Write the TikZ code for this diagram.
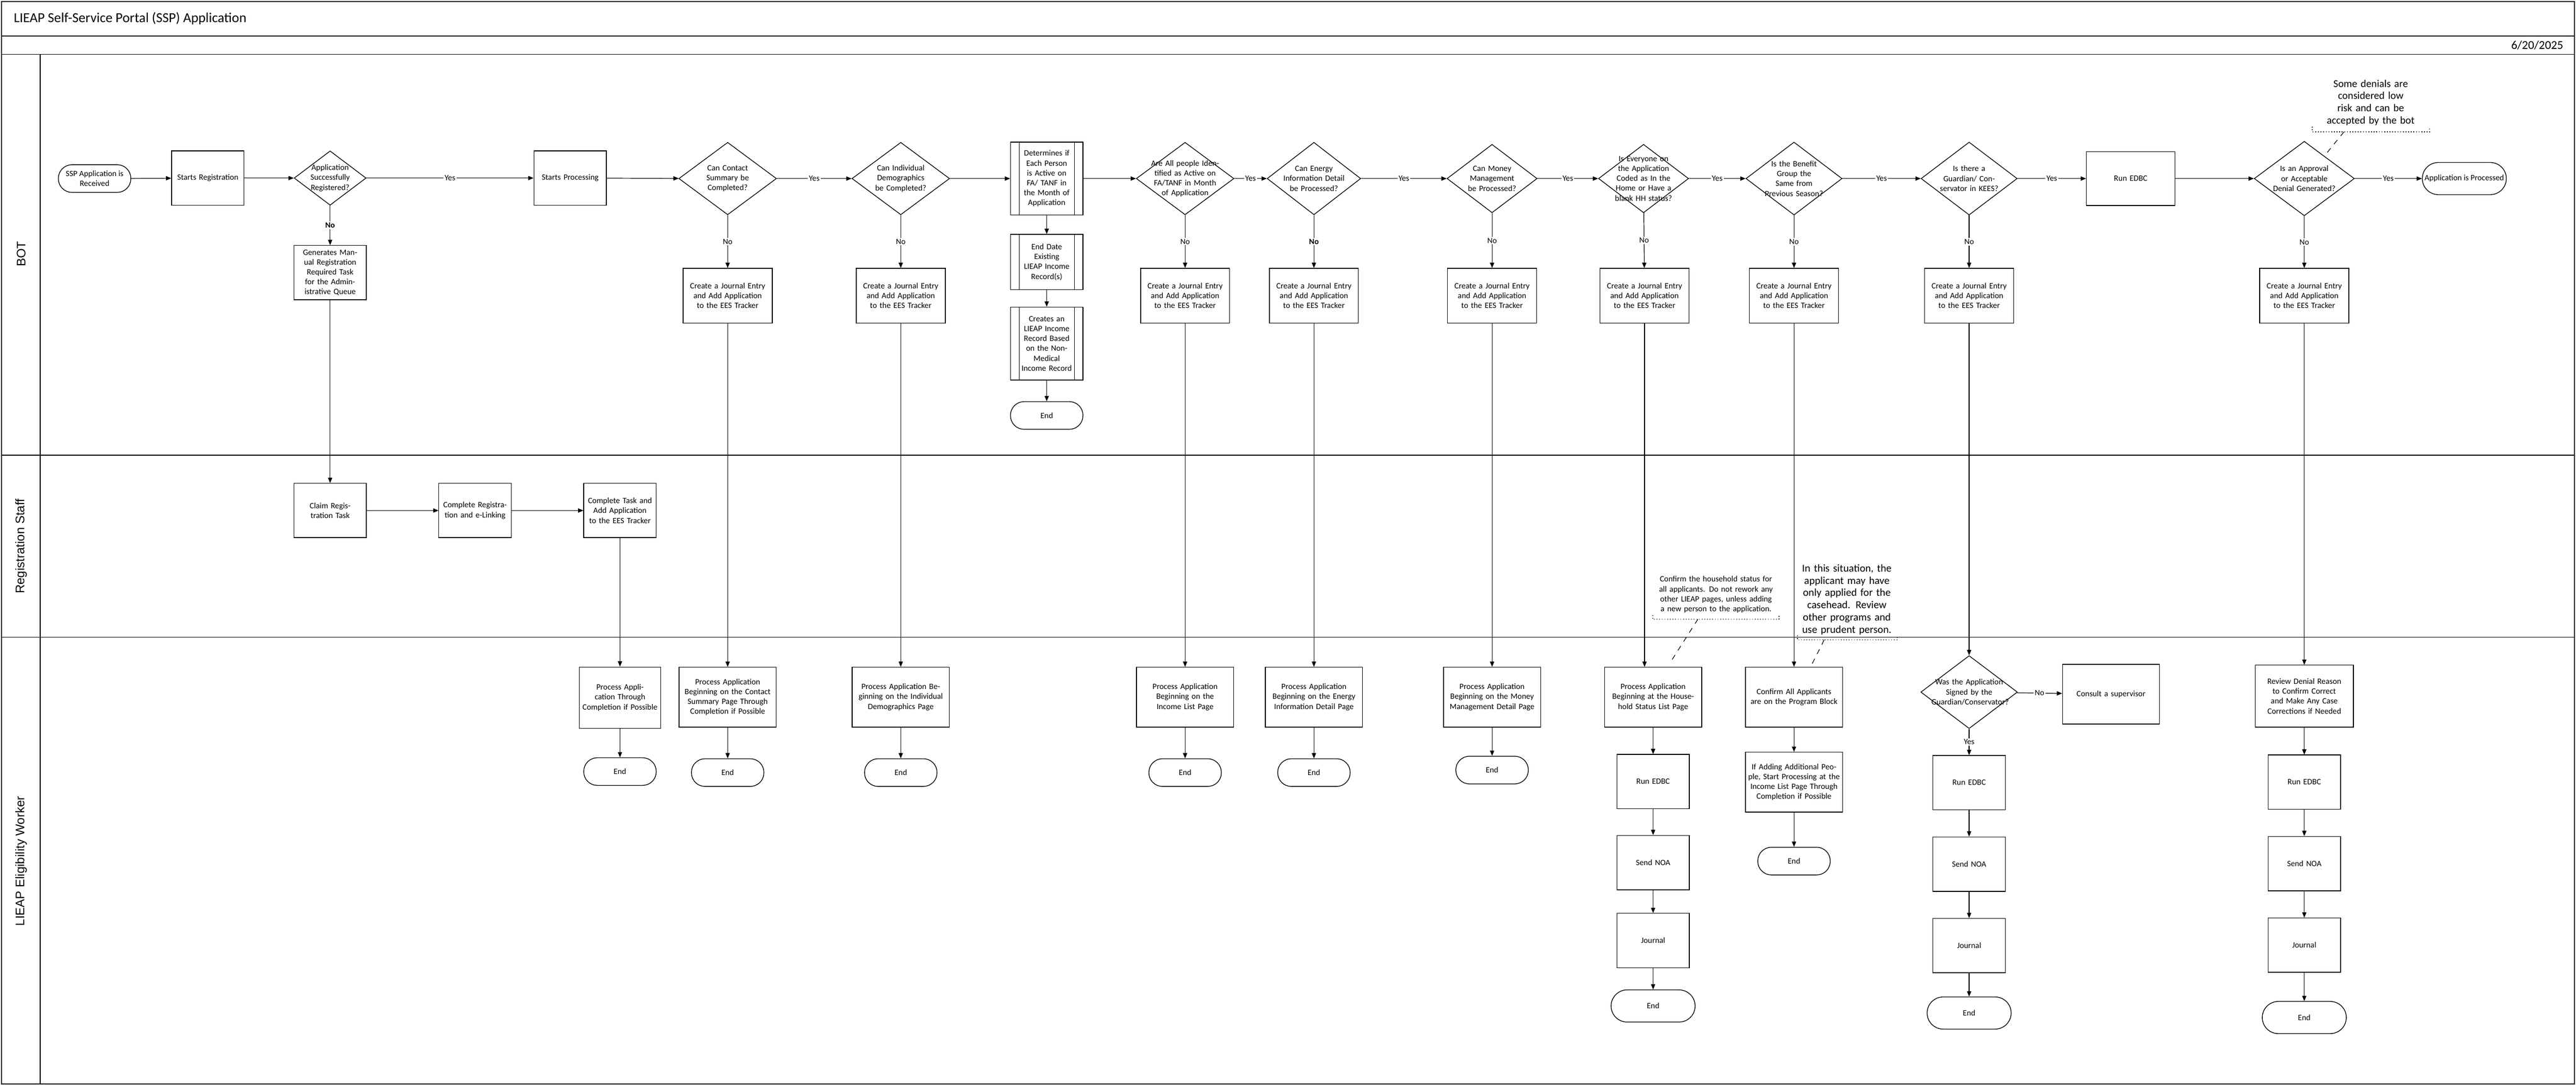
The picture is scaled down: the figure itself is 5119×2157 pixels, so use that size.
\documentclass[tikz,border=0pt]{standalone}
\usepackage{fontspec}
\setmainfont{Carlito}
\newfontfamily\lanefont{Liberation Sans}
\usetikzlibrary{shapes.geometric,arrows.meta}
\begin{document}
\begin{tikzpicture}[x=0.1mm,y=-0.1mm,
  every node/.style={font=\fontsize{4.6}{5.6}\selectfont},
  box/.style={draw,line width=0.4pt,align=center,inner sep=0.4mm,minimum width=14.4mm,minimum height=10.8mm,text width=13.4mm},
  jbox/.style={box,minimum width=17.7mm,minimum height=10.9mm,text width=16.6mm},
  pbox/.style={box,minimum width=19.3mm,minimum height=11.9mm,text width=18.2mm},
  term/.style={draw,line width=0.4pt,align=center,rounded corners=2.7mm,minimum width=14.4mm,minimum height=5.5mm,inner sep=0.3mm},
  bterm/.style={term,rounded corners=3.2mm,minimum width=16.7mm,minimum height=6.4mm},
  dia/.style={draw,line width=0.4pt,diamond,inner sep=0pt,minimum width=19.4mm,minimum height=14.4mm},
  dt/.style={align=center,inner sep=0pt,text width=13mm},
  arr/.style={-{Triangle[length=3pt,width=2.4pt]},line width=0.35pt},
  ln/.style={line width=0.35pt},
  lbl/.style={midway,fill=white,inner sep=0.6pt},
  note/.style={align=center,inner sep=0pt},
  brk/.style={densely dotted,line width=0.5pt},
  dsh/.style={dashed,line width=0.35pt}]
\useasboundingbox (0,0) rectangle (5119,2157);
% frame
\draw[line width=0.6pt] (3,3) rectangle (5116,2155);
\draw[line width=0.5pt] (3,72) -- (5116,72);
\draw[line width=0.5pt] (3,108) -- (5116,108);
\draw[line width=0.5pt] (80,108) -- (80,2155);
\draw[line width=0.5pt] (3,905) -- (5116,905);
\draw[line width=0.5pt] (3,1267) -- (5116,1267);
\node[anchor=west,font=\fontsize{7.8}{9}\selectfont] (title) at (15,37) {LIEAP Self-Service Portal (SSP) Application};
\node[anchor=east,font=\fontsize{6.8}{8}\selectfont] (date) at (5106,90) {6/20/2025};
\node[rotate=90,font=\lanefont\fontsize{7}{8}\selectfont] (lBOT) at (42,505) {BOT};
\node[rotate=90,font=\lanefont\fontsize{7}{8}\selectfont] (lREG) at (42,1086) {Registration Staff};
\node[rotate=90,font=\lanefont\fontsize{7}{8}\selectfont] (lELG) at (42,1712) {LIEAP Eligibility Worker};

% ---------- BOT lane ----------
\node[term] (start) at (188,355) {SSP Application is\\Received};
\node[box] (sreg) at (413,354) {Starts Registration};
\node[dia,minimum width=14.3mm,minimum height=10.8mm] (d1) at (656,354) {};
\node[dt,text width=9mm] at (d1) {Application Successfully Registered?};
\node[box] (gen) at (656,542) {Generates Manual Registration Required Task for the Administrative Queue};
\node[box] (sproc) at (1133,354) {Starts Processing};
\node[dia] (dCS) at (1446,355) {};
\node[dt] at (dCS) {Can Contact Summary be Completed?};
\node[jbox] (jCS) at (1446,588) {Create a Journal Entry and Add Application to the EES Tracker};
\node[dia] (dID) at (1790,355) {};
\node[dt,text width=12mm] at (dID) {Can Individual Demographics be Completed?};
\node[jbox] (jID) at (1790,588) {Create a Journal Entry and Add Application to the EES Tracker};
\node[box,minimum height=14.5mm,text width=10mm] (det) at (2080,355) {Determines if Each Person is Active on FA/ TANF in the Month of Application};
\node[box,minimum height=11mm,text width=10mm] (edt) at (2080,521) {End Date Existing LIEAP Income Record(s)};
\node[box,minimum height=14.5mm,text width=10.5mm] (cre) at (2080,683) {Creates an LIEAP Income Record Based on the Non-Medical Income Record};
\foreach \n in {det,edt,cre}{
  \draw[ln] ([xshift=1.8mm]\n.north west) -- ([xshift=1.8mm]\n.south west);
  \draw[ln] ([xshift=-1.8mm]\n.north east) -- ([xshift=-1.8mm]\n.south east);}
\node[term] (endB) at (2080,826) {End};
\node[dia] (dAA) at (2355,355) {};
\node[dt,text width=14mm] at (dAA) {Are All people Identified as Active on FA/TANF in Month of Application};
\node[jbox] (jAA) at (2355,588) {Create a Journal Entry and Add Application to the EES Tracker};
\node[dia,minimum width=18.6mm] (dEN) at (2611,355) {};
\node[dt] at (dEN) {Can Energy Information Detail be Processed?};
\node[jbox] (jEN) at (2611,588) {Create a Journal Entry and Add Application to the EES Tracker};
\node[dia,minimum width=17.9mm,minimum height=13.6mm] (dMM) at (2965,355) {};
\node[dt,text width=11mm] at (dMM) {Can Money Management be Processed?};
\node[jbox] (jMM) at (2965,588) {Create a Journal Entry and Add Application to the EES Tracker};
\node[dia,minimum width=17.9mm,minimum height=13.6mm] (dEV) at (3266,355) {};
\node[dt,text width=14mm] at (dEV) {Is Everyone on the Application Coded as In the Home or Have a blank HH status?};
\node[jbox] (jEV) at (3268,588) {Create a Journal Entry and Add Application to the EES Tracker};
\node[dia,minimum width=19.1mm,minimum height=14.5mm] (dBG) at (3565,355) {};
\node[dt,text width=13mm] at (dBG) {Is the Benefit Group the Same from Previous Season?};
\node[jbox] (jBG) at (3565,588) {Create a Journal Entry and Add Application to the EES Tracker};
\node[dia,minimum width=19.1mm,minimum height=14.5mm] (dGU) at (3913,355) {};
\node[dt,text width=14mm] at (dGU) {Is there a Guardian/ Conservator in KEES?};
\node[jbox] (jGU) at (3913,588) {Create a Journal Entry and Add Application to the EES Tracker};
\node[box,minimum width=17.6mm,minimum height=10.7mm,text width=16mm] (edbc) at (4234,355) {Run EDBC};
\node[dia,minimum width=19.9mm,minimum height=14.8mm] (dAP) at (4579,355) {};
\node[dt,text width=13mm] at (dAP) {Is an Approval or Acceptable Denial Generated?};
\node[jbox] (jAP) at (4579,588) {Create a Journal Entry and Add Application to the EES Tracker};
\node[term,minimum width=16.7mm,minimum height=6.4mm,rounded corners=3.2mm] (proc) at (4897,355) {Application is Processed};
\node[note,font=\fontsize{5.9}{6.9}\selectfont,text width=21mm] (n1) at (4711,204) {Some denials are considered low risk and can be accepted by the bot};
\coordinate (n1a) at (4658,262);
\coordinate (n1b) at (4619,310);
\draw[brk] (4595,252) -- (4595,262) -- (4828,262) -- (4828,252);
\draw[dsh] (n1a) -- (n1b);

% BOT edges
\draw[arr] (start) -- (sreg);
\draw[arr] (sreg) -- (d1);
\draw[arr] (d1) -- node[lbl]{Yes} (sproc);
\draw[arr] (sproc) -- (dCS);
\draw[arr] (dCS) -- node[lbl]{Yes} (dID);
\draw[arr] (dID) -- (det);
\draw[arr] (det) -- (dAA);
\draw[arr] (dAA) -- node[lbl]{Yes} (dEN);
\draw[arr] (dEN) -- node[lbl]{Yes} (dMM);
\draw[arr] (dMM) -- node[lbl]{Yes} (dEV);
\draw[arr] (dEV) -- node[lbl]{Yes} (dBG);
\draw[arr] (dBG) -- node[lbl]{Yes} (dGU);
\draw[arr] (dGU) -- node[lbl]{Yes} (edbc);
\draw[arr] (edbc) -- (dAP);
\draw[arr] (dAP) -- node[lbl]{Yes} (proc);
\draw[arr] (det) -- (edt);
\draw[arr] (edt) -- (cre);
\draw[arr] (cre) -- (endB);
\draw[arr] (d1) -- node[lbl,font=\bfseries\fontsize{4.6}{5.6}\selectfont]{No} (gen);
\draw[arr] (dCS) -- node[lbl]{No} (jCS);
\draw[arr] (dID) -- node[lbl]{No} (jID);
\draw[arr] (dAA) -- node[lbl]{No} (jAA);
\draw[arr] (dEN) -- node[lbl,font=\bfseries\fontsize{4.6}{5.6}\selectfont]{No} (jEN);
\draw[arr] (dMM) -- node[lbl]{No} (jMM);
\draw[arr] (dEV) -- node[lbl]{No} (jEV);
\draw[arr] (dBG) -- node[lbl]{No} (jBG);
\draw[arr] (dGU) -- node[lbl]{No} (jGU);
\draw[arr] (dAP) -- node[lbl]{No} (jAP);

% ---------- Registration lane ----------
\node[box] (claim) at (656,1015) {Claim Registration Task};
\node[box] (compl) at (944,1015) {Complete Registration and e-Linking};
\node[box] (ctask) at (1232,1015) {Complete Task and Add Application to the EES Tracker};
\draw[arr] (gen) -- (claim);
\draw[arr] (claim) -- (compl);
\draw[arr] (compl) -- (ctask);

% ---------- Eligibility lane ----------
\node[box,minimum width=16.2mm,minimum height=12.2mm,text width=15mm] (pT) at (1232,1387) {Process Application Through Completion if Possible};
\node[term] (eT) at (1232,1534) {End};
\node[pbox] (pCS) at (1446,1386) {Process Application Beginning on the Contact Summary Page Through Completion if Possible};
\node[term] (eCS) at (1446,1536) {End};
\node[pbox] (pID) at (1790,1386) {Process Application Beginning on the Individual Demographics Page};
\node[term] (eID) at (1790,1536) {End};
\node[pbox] (pIN) at (2355,1386) {Process Application Beginning on the Income List Page};
\node[term] (eIN) at (2355,1536) {End};
\node[pbox] (pEN) at (2611,1386) {Process Application Beginning on the Energy Information Detail Page};
\node[term] (eEN) at (2611,1536) {End};
\node[pbox] (pMM) at (2965,1386) {Process Application Beginning on the Money Management Detail Page};
\node[term] (eMM) at (2965,1531) {End};
\node[pbox] (pHH) at (3285,1386) {Process Application Beginning at the Household Status List Page};
\node[box] (rHH) at (3285,1554) {Run EDBC};
\node[box] (nHH) at (3285,1715) {Send NOA};
\node[box] (jrHH) at (3285,1870) {Journal};
\node[bterm] (eHH) at (3285,2000) {End};
\node[pbox] (pCA) at (3565,1386) {Confirm All Applicants are on the Program Block};
\node[pbox] (ifA) at (3565,1555) {If Adding Additional People, Start Processing at the Income List Page Through Completion if Possible};
\node[term] (eCA) at (3565,1712) {End};
\node[dia,minimum width=19.2mm,minimum height=14.5mm] (dWS) at (3913,1376) {};
\node[dt,text width=15mm] at (dWS) {Was the Application Signed by the Guardian/Conservator?};
\node[pbox] (sup) at (4195,1380) {Consult a supervisor};
\node[box] (rGU) at (3913,1556) {Run EDBC};
\node[box] (nGU) at (3913,1718) {Send NOA};
\node[box] (jrGU) at (3913,1880) {Journal};
\node[bterm] (eGU) at (3913,2014) {End};
\node[box,minimum width=19.5mm,minimum height=12.3mm,text width=18mm] (rv) at (4579,1384) {Review Denial Reason to Confirm Correct and Make Any Case Corrections if Needed};
\node[box] (rAP) at (4579,1555) {Run EDBC};
\node[box] (nAP) at (4579,1717) {Send NOA};
\node[box] (jrAP) at (4579,1879) {Journal};
\node[bterm] (eAP) at (4579,2023) {End};

\node[note,text width=25mm] (n2) at (3410,1182) {Confirm the household status for all applicants. Do not rework any other LIEAP pages, unless adding a new person to the application.};
\draw[brk] (3284,1223) -- (3284,1231) -- (3535,1231) -- (3535,1223);
\coordinate (n2a) at (3374,1231);
\coordinate (n2b) at (3323,1311);
\draw[dsh] (n2a) -- (n2b);
\node[note,font=\fontsize{6}{6.9}\selectfont,text width=18mm] (n3) at (3670,1192) {In this situation, the applicant may have only applied for the casehead. Review other programs and use prudent person.};
\draw[brk] (3572,1263) -- (3572,1272) -- (3770,1272) -- (3770,1263);
\coordinate (n3a) at (3625,1272);
\draw[dsh] (n3a) -- (pCA.north -| 3598,0);

% long edges into eligibility lane
\draw[arr] (ctask) -- (pT);
\draw[arr] (jCS) -- (pCS);
\draw[arr] (jID) -- (pID);
\draw[arr] (jAA) -- (pIN);
\draw[arr] (jEN) -- (pEN);
\draw[arr] (jMM) -- (pMM);
\draw[arr] (jEV.south) -- (jEV.south |- pHH.north);
\draw[arr] (jBG) -- (pCA);
\draw[arr] (jGU) -- (dWS);
\draw[arr] (jAP) -- (rv);
% eligibility edges
\draw[arr] (pT) -- (eT);
\draw[arr] (pCS) -- (eCS);
\draw[arr] (pID) -- (eID);
\draw[arr] (pIN) -- (eIN);
\draw[arr] (pEN) -- (eEN);
\draw[arr] (pMM) -- (eMM);
\draw[arr] (pHH) -- (rHH);
\draw[arr] (rHH) -- (nHH);
\draw[arr] (nHH) -- (jrHH);
\draw[arr] (jrHH) -- (eHH);
\draw[arr] (pCA) -- (ifA);
\draw[arr] (ifA) -- (eCA);
\draw[arr] (dWS) -- node[lbl]{No} (sup);
\draw[arr] (dWS) -- node[lbl]{Yes} (rGU);
\draw[arr] (rGU) -- (nGU);
\draw[arr] (nGU) -- (jrGU);
\draw[arr] (jrGU) -- (eGU);
\draw[arr] (rv) -- (rAP);
\draw[arr] (rAP) -- (nAP);
\draw[arr] (nAP) -- (jrAP);
\draw[arr] (jrAP) -- (eAP);
\end{tikzpicture}
\end{document}
